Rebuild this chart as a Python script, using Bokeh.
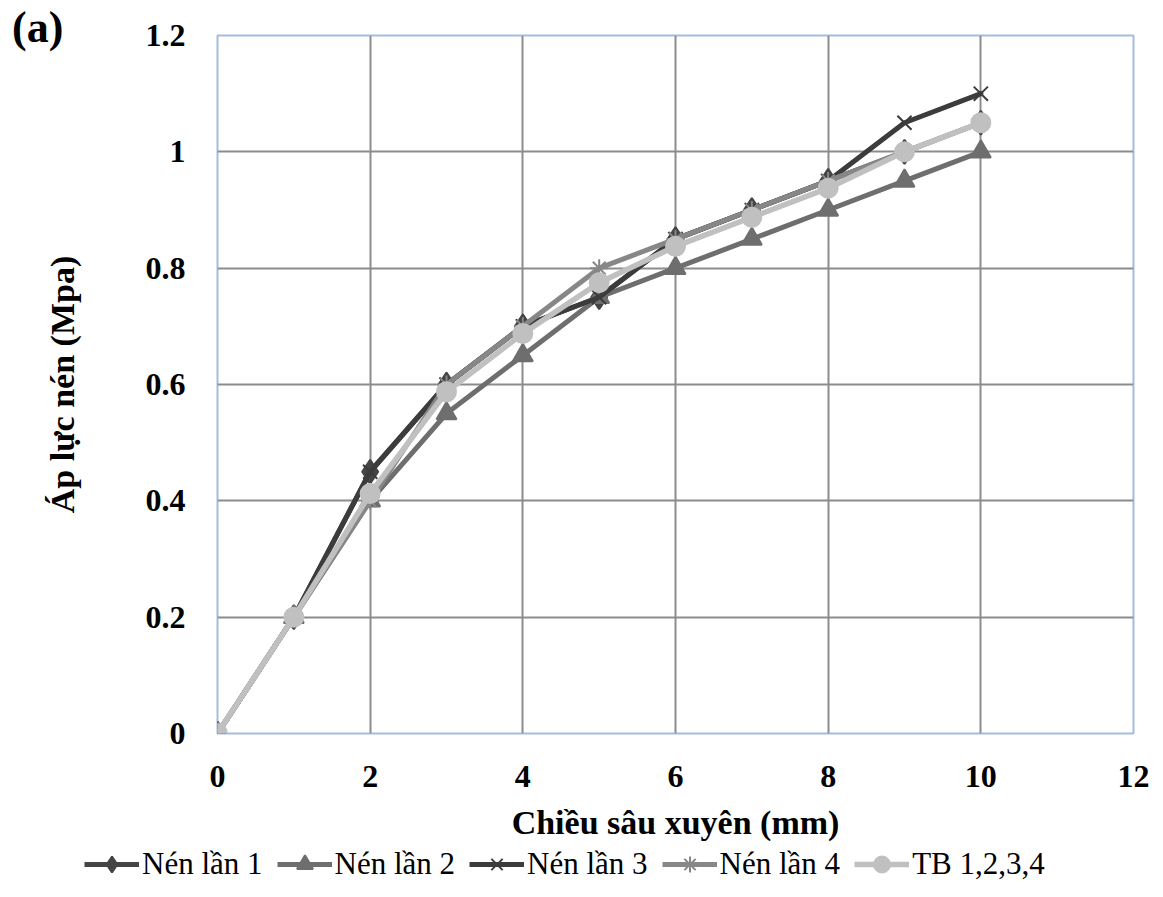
from bokeh.plotting import figure
from bokeh.models import Range1d, FixedTicker, Legend, LegendItem, Div
from bokeh.layouts import column
from bokeh.embed import file_html
from bokeh.resources import INLINE

# ---- data ----
depth = [0, 1, 2, 3, 4, 5, 6, 7, 8, 9, 10]
nen_lan_1 = [0, 0.2, 0.45, 0.6, 0.7, 0.75, 0.85, 0.9, 0.95, 1.0, 1.05]
nen_lan_2 = [0, 0.2, 0.4, 0.55, 0.65, 0.75, 0.8, 0.85, 0.9, 0.95, 1.0]
nen_lan_3 = [0, 0.2, 0.45, 0.6, 0.7, 0.75, 0.85, 0.9, 0.95, 1.05, 1.1]
nen_lan_4 = [0, 0.2, 0.4, 0.6, 0.7, 0.8, 0.85, 0.9, 0.95, 1.0, 1.05]
tb_1234 = [0, 0.2, 0.4125, 0.5875, 0.6875, 0.775, 0.8375, 0.8875, 0.9375, 1.0, 1.05]

series_names = ["Nén lần 1", "Nén lần 2", "Nén lần 3", "Nén lần 4", "TB 1,2,3,4"]
x_ticks = [0, 2, 4, 6, 8, 10, 12]
x_tick_labels = ["0", "2", "4", "6", "8", "10", "12"]
y_ticks = [0, 0.2, 0.4, 0.6, 0.8, 1.0, 1.2]
y_tick_labels = ["0", "0.2", "0.4", "0.6", "0.8", "1", "1.2"]
x_title = "Chiều sâu xuyên (mm)"
y_title = "Áp lực nén (Mpa)"
panel_tag = "(a)"

FONT = "Liberation Serif"

p = figure(frame_width=916, frame_height=698, output_backend="svg",
           toolbar_location=None,
           x_range=Range1d(0, 12), y_range=Range1d(0, 1.2),
           min_border_left=217, min_border_right=30, min_border_top=35,
           min_border_bottom=0)
p.background_fill_color = "white"
p.border_fill_alpha = 0
p.outline_line_color = "#a7bbe2"
p.outline_line_width = 2

# grids
p.xgrid.ticker = FixedTicker(ticks=x_ticks[:-1])
p.ygrid.ticker = FixedTicker(ticks=y_ticks[:-1])
for g in (p.xgrid, p.ygrid):
    g.grid_line_color = "#8c8c8c"
    g.grid_line_width = 2

# axes
p.xaxis.ticker = FixedTicker(ticks=x_ticks)
p.yaxis.ticker = FixedTicker(ticks=y_ticks)
p.xaxis.major_label_overrides = {t: l for t, l in zip(x_ticks, x_tick_labels)}
p.yaxis.major_label_overrides = {t: l for t, l in zip(y_ticks, y_tick_labels)}
for ax in (p.xaxis, p.yaxis):
    ax.axis_line_color = None
    ax.major_tick_line_color = None
    ax.minor_tick_line_color = None
    ax.major_label_text_font = FONT
    ax.major_label_text_font_style = "bold"
    ax.major_label_text_font_size = "32px"
    ax.major_label_text_color = "black"
    ax.axis_label_text_font = FONT
    ax.axis_label_text_font_style = "bold"
    ax.axis_label_text_font_size = "34px"
    ax.axis_label_text_color = "black"
p.yaxis.major_label_standoff = 26
p.xaxis.major_label_standoff = 26
p.xaxis.axis_label = x_title
p.xaxis.axis_label_standoff = 14
p.yaxis.axis_label = y_title
p.yaxis.axis_label_standoff = 62

styles = [
    dict(color="#454545", marker="diamond", size=24, lw=5),
    dict(color="#6e6e6e", marker="triangle", size=20, lw=5),
    dict(color="#3c3c3c", marker="x", size=20, lw=5),
    dict(color="#878787", marker="asterisk", size=18, lw=5),
    dict(color="#c0c0c0", marker="circle", size=19, lw=5.5),
]
data = [nen_lan_1, nen_lan_2, nen_lan_3, nen_lan_4, tb_1234]

for ys, st in zip(data, styles):
    p.line(depth, ys, line_color=st["color"], line_width=st["lw"],
           line_join="round", line_cap="round")
    p.scatter(depth, ys, marker=st["marker"], size=st["size"],
              fill_color=st["color"], line_color=st["color"], line_width=2)

# ---- legend strip (its own small figure, glyphs kept outside its view) ----
leg_fig = figure(width=1163, height=42, output_backend="svg",
                 toolbar_location=None, x_axis_type=None, y_axis_type=None,
                 x_range=Range1d(100, 101), y_range=Range1d(100, 101),
                 min_border=0)
leg_fig.outline_line_color = None
leg_fig.border_fill_alpha = 0
leg_fig.background_fill_alpha = 0
leg_fig.xgrid.visible = False
leg_fig.ygrid.visible = False

# keep the legend strip's frame from being aligned with the main plot frame
try:
    leg_fig.frame_align = False
    p.frame_align = False
    leg_x, glyph_w, gap, font_px = 84, 55, 14, "31px"
except AttributeError:
    leg_x, glyph_w, gap, font_px = 0, 46, 8, "29px"

items = []
for name, ys, st in zip(series_names, data, styles):
    ln = leg_fig.line(depth, ys, line_color=st["color"], line_width=st["lw"])
    sc = leg_fig.scatter(depth, ys, marker=st["marker"], size=st["size"],
                         fill_color=st["color"], line_color=st["color"],
                         line_width=2)
    items.append(LegendItem(label=name, renderers=[ln, sc]))

legend = Legend(items=items, orientation="horizontal", location=(leg_x, 1),
                label_text_font=FONT, label_text_font_size=font_px,
                label_text_color="black", glyph_width=glyph_w, glyph_height=40,
                label_standoff=3, spacing=gap, padding=0, margin=0,
                border_line_color=None, background_fill_alpha=0)
leg_fig.add_layout(legend, "center")

tag = Div(text=panel_tag,
          styles={"position": "absolute", "left": "7px", "top": "-1px",
                  "font-family": FONT, "font-weight": "bold",
                  "font-size": "44px", "color": "black", "line-height": "1.1"})

layout = column(p, leg_fig, tag)
open("out.html", "w").write(file_html(layout, INLINE))
